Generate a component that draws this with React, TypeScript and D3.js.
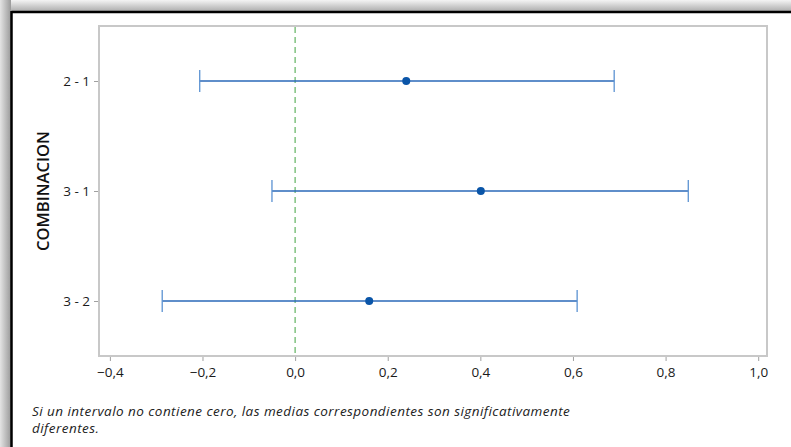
import { useEffect, useRef } from 'react';
import * as d3 from 'd3';

const combos = ['2 - 1', '3 - 1', '3 - 2'];
const lowers = [-0.206, -0.05, -0.287];
const centers = [0.24, 0.401, 0.16];
const uppers = [0.689, 0.849, 0.609];
const xTicks = [-0.4, -0.2, 0, 0.2, 0.4, 0.6, 0.8, 1.0];
const note = [
  'Si un intervalo no contiene cero, las medias correspondientes son significativamente',
  'diferentes.',
];

const W = 791;
const H = 447;

export default function App() {
  const ref = useRef<SVGSVGElement>(null);

  useEffect(() => {
    const svg = d3.select(ref.current);
    svg.selectAll('*').remove();

    const defs = svg.append('defs');
    const gTop = defs.append('linearGradient').attr('id', 'shTop').attr('x1', 0).attr('x2', 0).attr('y1', 0).attr('y2', 1);
    gTop.append('stop').attr('offset', 0).attr('stop-color', '#f4f4f4');
    gTop.append('stop').attr('offset', 1).attr('stop-color', '#a8a8a8');
    const gLeft = defs.append('linearGradient').attr('id', 'shLeft').attr('x1', 0).attr('x2', 1).attr('y1', 0).attr('y2', 0);
    gLeft.append('stop').attr('offset', 0).attr('stop-color', '#e4e4e4');
    gLeft.append('stop').attr('offset', 1).attr('stop-color', '#9a9a9a');

    // window frame
    svg.append('rect').attr('x', 0).attr('y', 0).attr('width', W).attr('height', 12).attr('fill', 'url(#shTop)');
    svg.append('rect').attr('x', 0).attr('y', 0).attr('width', 11).attr('height', H).attr('fill', 'url(#shLeft)');
    svg.append('rect').attr('x', 11).attr('y', 12).attr('width', W - 11).attr('height', H - 12).attr('fill', '#fff');
    svg.append('line').attr('x1', 11.5).attr('x2', W).attr('y1', 12).attr('y2', 12).attr('stroke', '#000').attr('stroke-width', 2.5);
    svg.append('line').attr('x1', 11.5).attr('x2', 11.5).attr('y1', 11).attr('y2', H).attr('stroke', '#000').attr('stroke-width', 2.5);

    const left = 99;
    const right = 767;
    const top = 26;
    const bottom = 356;

    const x = d3.scaleLinear().domain([-0.4235, 1.019]).range([left, right]);
    const y = d3.scalePoint().domain(combos).range([top, bottom]).padding(0.5);

    // plot frame
    svg.append('rect')
      .attr('x', left).attr('y', top)
      .attr('width', right - left).attr('height', bottom - top)
      .attr('fill', 'none').attr('stroke', '#c8c8c8').attr('stroke-width', 2);

    // x axis
    const xAxis = svg.append('g')
      .attr('transform', `translate(0, ${bottom + 1})`)
      .call(
        d3.axisBottom(x)
          .tickValues(xTicks)
          .tickSize(4)
          .tickFormat(d => d3.format('.1f')(d as number).replace('.', ','))
      );
    xAxis.select('.domain').remove();
    xAxis.selectAll('.tick line').attr('stroke', '#a0a0a0');
    xAxis.selectAll('.tick text')
      .attr('y', 10)
      .attr('dy', '0.71em')
      .attr('fill', '#1a1a1a')
      .style('font-family', '"Open Sans", sans-serif')
      .style('font-weight', 500)
      .style('font-size', '13.5px');

    // y axis
    const yAxis = svg.append('g')
      .attr('transform', `translate(${left - 1}, 0)`)
      .call(d3.axisLeft(y).tickSize(4).tickPadding(4));
    yAxis.select('.domain').remove();
    yAxis.selectAll('.tick line').attr('stroke', '#a0a0a0');
    yAxis.selectAll('.tick text')
      .attr('fill', '#1a1a1a')
      .style('font-family', '"Open Sans", sans-serif')
      .style('font-weight', 500)
      .style('font-size', '13.5px');

    svg.append('text')
      .attr('transform', `translate(49, ${(top + bottom) / 2}) rotate(-90)`)
      .attr('text-anchor', 'middle')
      .attr('fill', '#111')
      .style('font-family', '"Open Sans", sans-serif')
      .style('font-weight', 600)
      .style('font-size', '16.5px')
      .text('COMBINACION');

    // zero reference
    svg.append('line')
      .attr('x1', x(0)).attr('x2', x(0))
      .attr('y1', top + 1).attr('y2', bottom - 1)
      .attr('stroke', '#6cb86c')
      .attr('stroke-width', 1.3)
      .attr('stroke-dasharray', '6,4');

    const rows = combos.map((c, i) => ({ c, lo: lowers[i], mid: centers[i], hi: uppers[i] }));
    const g = svg.append('g').selectAll('g').data(rows).enter().append('g');
    g.append('line')
      .attr('x1', d => x(d.lo)).attr('x2', d => x(d.hi))
      .attr('y1', d => y(d.c)!).attr('y2', d => y(d.c)!)
      .attr('stroke', '#2a68b8').attr('stroke-width', 1.3);
    g.append('line')
      .attr('x1', d => x(d.lo)).attr('x2', d => x(d.lo))
      .attr('y1', d => y(d.c)! - 11).attr('y2', d => y(d.c)! + 11)
      .attr('stroke', '#5b92d2').attr('stroke-width', 1.3);
    g.append('line')
      .attr('x1', d => x(d.hi)).attr('x2', d => x(d.hi))
      .attr('y1', d => y(d.c)! - 11).attr('y2', d => y(d.c)! + 11)
      .attr('stroke', '#5b92d2').attr('stroke-width', 1.3);
    g.append('circle')
      .attr('cx', d => x(d.mid)).attr('cy', d => y(d.c)!)
      .attr('r', 4).attr('fill', '#0a55a8');

    svg.append('g').selectAll('text').data(note).enter().append('text')
      .attr('x', 32)
      .attr('y', (d, i) => 416 + i * 17)
      .attr('fill', '#222')
      .style('font-family', '"Open Sans", sans-serif')
      .style('font-style', 'italic')
      .style('font-size', '13.5px')
      .style('letter-spacing', '0.45px')
      .text(d => d);
  }, []);

  return (
    <svg
      ref={ref}
      width={W}
      height={H}
      style={{ position: 'fixed', left: 0, top: 0, display: 'block' }}
    />
  );
}
